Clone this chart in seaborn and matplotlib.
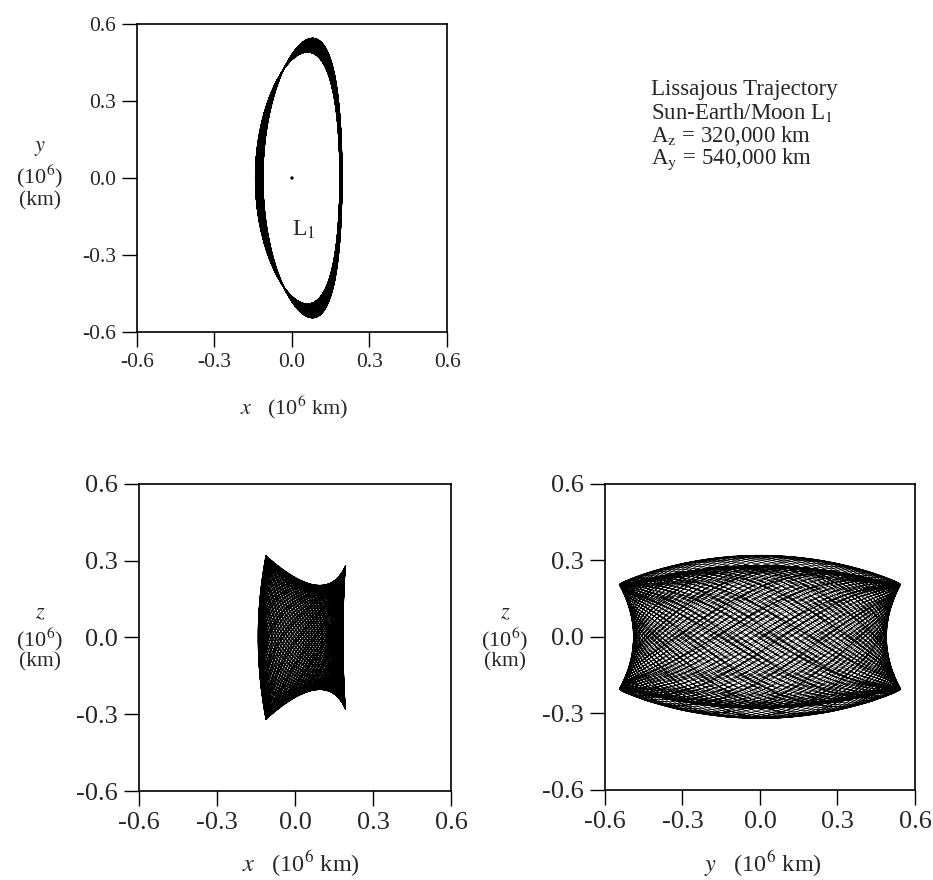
import numpy as np
import pandas as pd
import seaborn as sns
import matplotlib.pyplot as plt

# trajectory parameters (units: 10^6 km)
amp_z = 0.32          # A_z = 320,000 km
amp_y = 0.545         # A_y = 540,000 km (outer edge)
y_inner = 0.49        # y reach when z crosses zero
x_left = [-0.142, -0.112]   # left x reach at z=0 / at |z| max
x_right = [0.185, 0.194]    # right x reach at z=0 / at |z| max
x_top = 0.06                 # x where y is at its extreme
z_at_y_edge = 0.205          # |z| reach at y extremes
z_at_x_right = 0.28          # |z| reach at right x extreme
n_revs = 90
freq_ratio = 1.0617

ticks = [-0.6, -0.3, 0.0, 0.3, 0.6]
tick_labels = ["-0.6", "-0.3", "0.0", "0.3", "0.6"]
info_lines = ["Lissajous Trajectory", "Sun-Earth/Moon L$_1$",
              "A$_\\mathrm{z}$ = 320,000 km", "A$_\\mathrm{y}$ = 540,000 km"]

# build the trajectory from those readings
t = np.linspace(0, n_revs * 2 * np.pi, n_revs * 400)
phz = freq_ratio * t
s = np.sin(phz) ** 2
c = (x_left[0] + x_right[0]) / 2
a = (x_right[0] - x_left[0]) / 2
b = (c - x_top) / 2
c = c - b
dl = x_left[1] - x_left[0]
dr = x_right[1] - x_right[0]
x = c + a * np.cos(t) + b * np.cos(2 * t) + s * ((dl + dr) / 2 - (dl - dr) / 2 * np.cos(t))
y = (y_inner + (amp_y - y_inner) * s) * np.sin(t)
az_mid = (amp_z + z_at_x_right) / 2
az = az_mid - (az_mid - z_at_y_edge) * np.sin(t) ** 2 - (amp_z - z_at_x_right) / 2 * np.cos(t)
z = az * np.sin(phz)
traj = pd.DataFrame({"x": x, "y": y, "z": z})

sns.set_theme(style="white")
plt.rcParams["font.family"] = ["Liberation Serif", "DejaVu Serif"]
plt.rcParams["mathtext.fontset"] = "stix"

fig = plt.figure(figsize=(9.33, 8.8), dpi=100)
ax1 = fig.add_axes([0.1468, 0.6227, 0.3323, 0.35])
ax2 = fig.add_axes([0.149, 0.1011, 0.3344, 0.349])
ax3 = fig.add_axes([0.6484, 0.1023, 0.3323, 0.348])

panels = [(ax1, "x", "y", 15.5), (ax2, "x", "z", 19), (ax3, "y", "z", 19)]
for ax, hx, vy, fs in panels:
    sns.lineplot(data=traj, x=hx, y=vy, sort=False, estimator=None,
                 color="black", linewidth=0.5, ax=ax)
    ax.set_xlim(-0.6, 0.6)
    ax.set_ylim(-0.6, 0.6)
    ax.set_xticks(ticks)
    ax.set_yticks(ticks)
    ax.set_xticklabels(tick_labels, fontsize=fs)
    ax.set_yticklabels(tick_labels, fontsize=fs)
    ax.set_xlabel("")
    ax.set_ylabel("")
    ax.tick_params(direction="out", length=11, width=1.0, color="black",
                   bottom=True, left=True, top=False, right=False, pad=4)
    for sp in ax.spines.values():
        sp.set_color("black")
        sp.set_linewidth(1.2)

# L1 point
sns.scatterplot(x=[0.0], y=[0.0], color="black", s=6, ax=ax1, edgecolor="none")
ax1.text(0.0, -0.2, "L$_1$", fontsize=17, ha="left", va="center")

# axis labels
fig.text(294 / 933, 1 - 407 / 880, "$x$   (10$^6$ km)", fontsize=16, ha="center", va="center")
fig.text(301 / 933, 1 - 864 / 880, "$x$   (10$^6$ km)", fontsize=17.5, ha="center", va="center")
fig.text(763 / 933, 1 - 864 / 880, "$y$   (10$^6$ km)", fontsize=17.5, ha="center", va="center")

ylabels = [(40, 148, 176, 201, "$y$"), (40, 614, 639, 662, "$z$"), (505, 614, 639, 662, "$z$")]
for px, py1, py2, py3, sym in ylabels:
    fig.text(px / 933, 1 - py1 / 880, sym, fontsize=16, ha="center", va="center")
    fig.text(px / 933, 1 - py2 / 880, "(10$^6$)", fontsize=16, ha="center", va="center")
    fig.text(px / 933, 1 - py3 / 880, "(km)", fontsize=15.5, ha="center", va="center")

# info block
for i, line in enumerate(info_lines):
    fig.text(651 / 933, 1 - (89 + 23.5 * i) / 880, line, fontsize=16.5,
             ha="left", va="center")

fig.savefig("out.png", dpi=100)
